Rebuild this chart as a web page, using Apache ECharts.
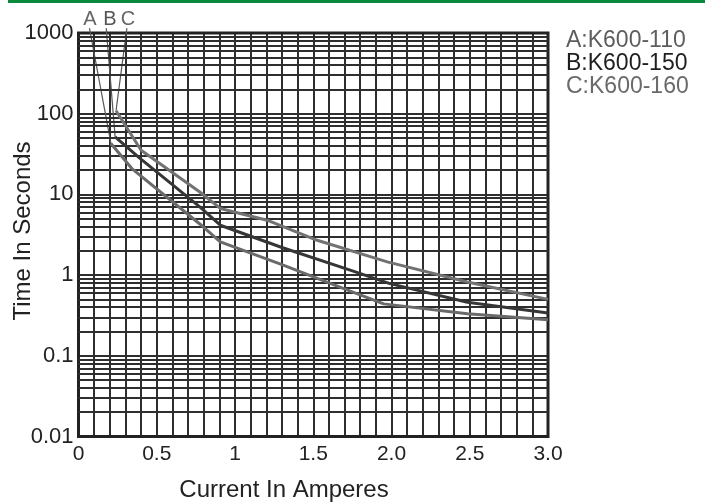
<!DOCTYPE html>
<html>
<head>
<meta charset="utf-8">
<script src="https://cdn.jsdelivr.net/npm/echarts@6/dist/echarts.min.js"></script>
<style>html,body{margin:0;padding:0;background:#fff}#c{width:705px;height:502px}</style>
</head>
<body>
<div id="c"></div>
<script>
// ---- data ----
var xTickLabels = ['0', '0.5', '1', '1.5', '2.0', '2.5', '3.0'];
var yTickLabels = ['0.01', '0.1', '1', '10', '100', '1000'];
var seriesNames = ['A', 'B', 'C'];
var legendTexts = ['A:K600-110', 'B:K600-150', 'C:K600-160'];

var curveA = [[0.207, 42.8], [0.341, 20.9], [0.775, 4.3], [0.906, 2.58], [1.3, 1.35], [1.695, 0.68], [1.95, 0.44], [2.485, 0.333], [3.0, 0.28]];
var curveB = [[0.234, 51.6], [0.393, 27.9], [0.775, 7.0], [0.906, 4.15], [1.3, 2.2], [1.736, 1.15], [1.99, 0.785], [2.485, 0.46], [3.0, 0.34]];
var curveC = [[0.24, 109], [0.40, 35.3], [0.775, 10.7], [0.906, 6.7], [1.205, 4.79], [1.525, 2.7], [1.973, 1.46], [2.485, 0.82], [3.0, 0.5]];

var leaderA = [[0.07, 1150], [0.207, 42.8]];
var leaderB = [[0.177, 1150], [0.234, 51.6]];
var leaderC = [[0.309, 1150], [0.24, 109]];

// ---- chart ----
var minorLines = [];
for (var d = -2; d < 3; d++) {
  for (var k = 2; k <= 9; k++) minorLines.push({ yAxis: k * Math.pow(10, d) });
}

var chart = echarts.init(document.getElementById('c'), null, { renderer: 'canvas' });
var gridCol = '#2e2e2e';
var colA = '#6a6a6a', colB = '#363636', colC = '#727272', leaderCol = '#5a5a5a';

function curve(name, data, color) {
  return { name: name, type: 'line', data: data, symbol: 'none', z: 5,
    lineStyle: { color: color, width: 3 }, clip: false, silent: true };
}
function leader(name, data) {
  return { name: name + '_l', type: 'line', data: data, symbol: 'none', z: 4,
    lineStyle: { color: leaderCol, width: 1.2 }, clip: false, silent: true };
}

chart.setOption({
  animation: false,
  backgroundColor: '#fff',
  grid: { left: 78.5, right: 157, top: 33, bottom: 65.5, show: true, borderColor: '#222', borderWidth: 3, z: 3 },
  xAxis: {
    type: 'value', min: 0, max: 3, interval: 0.1,
    axisLine: { show: false },
    axisTick: { show: false },
    splitLine: { show: true, lineStyle: { color: gridCol, width: 2 } },
    axisLabel: {
      margin: 7, fontSize: 21, color: '#222', fontFamily: 'Liberation Sans, Arial, sans-serif',
      showMinLabel: true, showMaxLabel: true,
      formatter: function (v) {
        var i = Math.round(v * 10);
        return i % 5 === 0 ? xTickLabels[i / 5] : '';
      }
    }
  },
  yAxis: {
    type: 'log', logBase: 10, min: 0.01, max: 1000,
    axisLine: { show: false },
    axisTick: { show: false },
    splitLine: { show: true, lineStyle: { color: gridCol, width: 2 } },
    axisLabel: {
      margin: 5, fontSize: 22, color: '#222', fontFamily: 'Liberation Sans, Arial, sans-serif',
      formatter: function (v) {
        var i = Math.round(Math.log10(v)) + 2;
        return yTickLabels[i] || '';
      }
    }
  },
  series: [
    { name: 'grid', type: 'line', data: [[0, 1]], symbol: 'none', z: 1, silent: true,
      lineStyle: { opacity: 0 },
      markLine: { silent: true, symbol: 'none', label: { show: false }, animation: false,
        lineStyle: { color: gridCol, width: 2, type: 'solid' }, data: minorLines } },
    leader('A', leaderA), leader('B', leaderB), leader('C', leaderC),
    curve('A', curveA, colA), curve('B', curveB, colB), curve('C', curveC, colC)
  ],
  graphic: [
    { type: 'rect', shape: { x: 8, y: 0, width: 697, height: 3 }, style: { fill: '#0a8a3c' } },
    { type: 'text', x: 90, y: 19, style: { text: seriesNames[0], fontSize: 20, fill: '#666', textAlign: 'center', textVerticalAlign: 'middle', fontFamily: 'Liberation Sans, Arial' } },
    { type: 'text', x: 110, y: 19, style: { text: seriesNames[1], fontSize: 20, fill: '#555', textAlign: 'center', textVerticalAlign: 'middle', fontFamily: 'Liberation Sans, Arial' } },
    { type: 'text', x: 128, y: 19, style: { text: seriesNames[2], fontSize: 20, fill: '#666', textAlign: 'center', textVerticalAlign: 'middle', fontFamily: 'Liberation Sans, Arial' } },
    { type: 'text', x: 566, y: 41, style: { text: legendTexts[0], fontSize: 23, fill: '#5e5e5e', textAlign: 'left', textVerticalAlign: 'middle', fontFamily: 'Liberation Sans, Arial' } },
    { type: 'text', x: 566, y: 64, style: { text: legendTexts[1], fontSize: 23, fill: '#1e1e1e', textAlign: 'left', textVerticalAlign: 'middle', fontFamily: 'Liberation Sans, Arial' } },
    { type: 'text', x: 566, y: 87, style: { text: legendTexts[2], fontSize: 23, fill: '#6a6a6a', textAlign: 'left', textVerticalAlign: 'middle', fontFamily: 'Liberation Sans, Arial' } },
    { type: 'text', x: 284, y: 490, style: { text: 'Current In Amperes', fontSize: 24, fill: '#222', textAlign: 'center', textVerticalAlign: 'middle', fontFamily: 'Liberation Sans, Arial' } },
    { type: 'text', x: 23, y: 231, rotation: Math.PI / 2, style: { text: 'Time In Seconds', fontSize: 24, fill: '#222', textAlign: 'center', textVerticalAlign: 'middle', fontFamily: 'Liberation Sans, Arial' } }
  ]
});
</script>
</body>
</html>
